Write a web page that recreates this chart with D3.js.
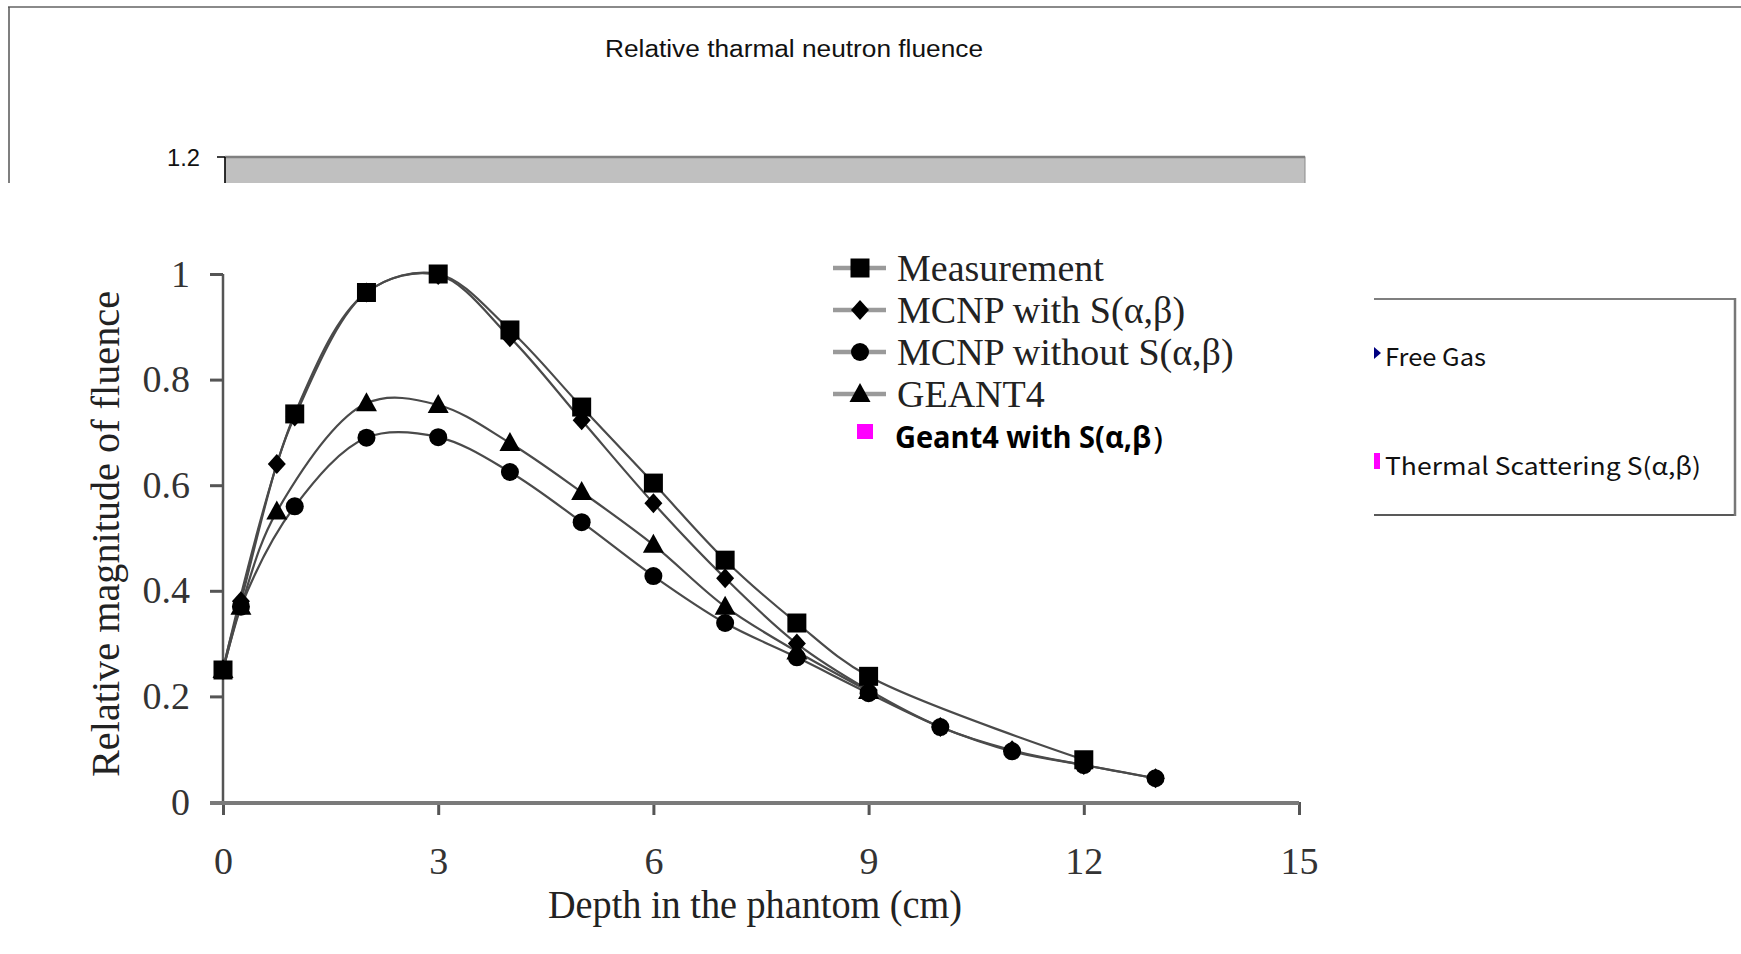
<!DOCTYPE html>
<html><head><meta charset="utf-8">
<script src="https://cdn.jsdelivr.net/npm/d3@7/dist/d3.min.js"></script>
<style>body{margin:0;background:#fff;overflow:hidden}</style>
</head><body><svg id="c" width="1741" height="954"></svg>
<script>
// ---------- data ----------
const chartTitle = "Relative tharmal neutron fluence";
const outerTickLabels = ["1.2"];
const outerTickValues = [1.2];
const boxLegendLabels = ["Free Gas", "Thermal Scattering S(α,β)"];
const boxLegendColors = ["#000080", "#ff00ff"];

const xTicks = [0, 3, 6, 9, 12, 15];
const yTicks = [0, 0.2, 0.4, 0.6, 0.8, 1];
const yTickLabels = ["0", "0.2", "0.4", "0.6", "0.8", "1"];
const xAxisTitle = "Depth in the phantom (cm)";
const yAxisTitle = "Relative magnitude of fluence";

const seriesNames = ["Measurement", "MCNP with S(α,β)", "MCNP without S(α,β)", "GEANT4"];
const seriesMarkers = ["square", "diamond", "circle", "triangle"];

const depthMeasurement = [0, 1, 2, 3, 4, 5, 6, 7, 8, 9, 12];
const valueMeasurement = [0.25, 0.735, 0.965, 1.0, 0.894, 0.748, 0.604, 0.458, 0.339, 0.238, 0.08];

const depthMcnpWith = [0, 0.25, 0.75, 1, 2, 3, 4, 5, 6, 7, 8, 9, 10, 11, 12, 13];
const valueMcnpWith = [0.25, 0.38, 0.64, 0.73, 0.965, 0.998, 0.88, 0.723, 0.566, 0.424, 0.30, 0.212, 0.142, 0.098, 0.07, 0.045];

const depthMcnpWithout = [0, 0.25, 1, 2, 3, 4, 5, 6, 7, 8, 9, 10, 11, 12, 13];
const valueMcnpWithout = [0.25, 0.37, 0.56, 0.69, 0.691, 0.625, 0.53, 0.428, 0.339, 0.274, 0.206, 0.142, 0.096, 0.07, 0.045];

const depthGeant4 = [0, 0.25, 0.75, 2, 3, 4, 5, 6, 7, 8, 9];
const valueGeant4 = [0.25, 0.37, 0.55, 0.755, 0.752, 0.68, 0.587, 0.487, 0.37, 0.285, 0.21];

const extraLegendLabel = "Geant4 with S(α,β）";
const extraLegendColor = "#ff00ff";

// ---------- drawing ----------
const svg = d3.select("#c");
const serif = "'Liberation Serif','DejaVu Serif',serif";
const sans = "'Liberation Sans',Arial,sans-serif";

// Outer (spreadsheet) chart frame
svg.append("line").attr("x1", 8).attr("x2", 1741).attr("y1", 7).attr("y2", 7)
  .attr("stroke", "#8a8a8a").attr("stroke-width", 2);
svg.append("line").attr("x1", 9).attr("x2", 9).attr("y1", 7).attr("y2", 190)
  .attr("stroke", "#555").attr("stroke-width", 1.5);
svg.append("text").attr("x", 794).attr("y", 57).attr("text-anchor", "middle")
  .attr("font-family", sans).attr("font-size", 23).attr("fill", "#111")
  .attr("textLength", 378).attr("lengthAdjust", "spacingAndGlyphs").text(chartTitle);

// outer plot area (grey band) and its axis
const yOuter = d3.scaleLinear().domain([1.0, 1.2]).range([383, 157]);
svg.append("rect").attr("x", 225).attr("y", yOuter(1.2)).attr("width", 1080).attr("height", 40)
  .attr("fill", "#c0c0c0").attr("stroke", "#8a8a8a").attr("stroke-width", 1);
svg.append("line").attr("x1", 225).attr("x2", 1305).attr("y1", yOuter(1.2)).attr("y2", yOuter(1.2))
  .attr("stroke", "#808080").attr("stroke-width", 2.5);
svg.append("line").attr("x1", 225).attr("x2", 225).attr("y1", yOuter(1.2)).attr("y2", 190)
  .attr("stroke", "#000").attr("stroke-width", 1.5);
outerTickValues.forEach((v, i) => {
  svg.append("line").attr("x1", 217).attr("x2", 225).attr("y1", yOuter(v)).attr("y2", yOuter(v))
    .attr("stroke", "#000").attr("stroke-width", 1.5);
  svg.append("text").attr("x", 200).attr("y", yOuter(v) + 9).attr("text-anchor", "end")
    .attr("font-family", sans).attr("font-size", 24).attr("fill", "#111")
    .attr("textLength", 33).attr("lengthAdjust", "spacingAndGlyphs").text(outerTickLabels[i]);
});

// pasted figure (white background)
svg.append("rect").attr("x", 0).attr("y", 183).attr("width", 1374).attr("height", 771).attr("fill", "#fff");

// outer legend box
svg.append("line").attr("x1", 1374).attr("x2", 1735).attr("y1", 299).attr("y2", 299).attr("stroke", "#555").attr("stroke-width", 1.5);
svg.append("line").attr("x1", 1374).attr("x2", 1735).attr("y1", 515).attr("y2", 515).attr("stroke", "#222").attr("stroke-width", 1.5);
svg.append("line").attr("x1", 1735).attr("x2", 1735).attr("y1", 298).attr("y2", 516).attr("stroke", "#777").attr("stroke-width", 2.5);
const boxY = [366, 475];
svg.append("path").attr("d", `M1374,${boxY[0]-19}L1381,${boxY[0]-13}L1374,${boxY[0]-7}Z`).attr("fill", boxLegendColors[0]);
svg.append("rect").attr("x", 1374).attr("y", boxY[1] - 22).attr("width", 6).attr("height", 16).attr("fill", boxLegendColors[1]);
const boxLabelWidths = [101, 316];
boxLegendLabels.forEach((t, i) => {
  svg.append("text").attr("x", 1385).attr("y", boxY[i])
    .attr("font-family", "'Noto Sans CJK JP','Liberation Sans',sans-serif").attr("font-size", 24)
    .attr("fill", "#111").attr("textLength", boxLabelWidths[i]).attr("lengthAdjust", "spacingAndGlyphs").text(t);
});

const x = d3.scaleLinear().domain([0, 15]).range([223, 1299]);
const y = d3.scaleLinear().domain([0, 1]).range([802, 274]);

const g = svg.append("g");
const axisColor = "#555";

// y axis
const yAxis = d3.axisLeft(y).tickValues(yTicks).tickSize(13).tickPadding(20)
  .tickFormat((d, i) => yTickLabels[i]);
const gy = g.append("g").attr("transform", `translate(${x(0)},0)`).call(yAxis);
gy.select(".domain").remove();
gy.selectAll("line").attr("stroke", axisColor).attr("stroke-width", 3);
gy.selectAll("text").attr("font-family", serif).attr("font-size", 38).attr("fill", "#333");
g.append("line").attr("x1", x(0)).attr("x2", x(0)).attr("y1", y(1)).attr("y2", y(0))
  .attr("stroke", axisColor).attr("stroke-width", 2.5);

// x axis
const xAxis = d3.axisBottom(x).tickValues(xTicks).tickSize(13).tickPadding(32).tickFormat(d3.format("d"));
const gx = g.append("g").attr("transform", `translate(0,${y(0)})`).call(xAxis);
gx.select(".domain").remove();
gx.selectAll("line").attr("stroke", axisColor).attr("stroke-width", 3);
gx.selectAll("text").attr("font-family", serif).attr("font-size", 38).attr("fill", "#333");
g.append("line").attr("x1", x(0) - 13).attr("x2", x(15)).attr("y1", y(0) + 1).attr("y2", y(0) + 1)
  .attr("stroke", "#7a7a7a").attr("stroke-width", 4);

// axis titles
g.append("text").attr("x", 755).attr("y", 918).attr("text-anchor", "middle")
  .attr("font-family", serif).attr("font-size", 40).attr("fill", "#222")
  .attr("textLength", 414).attr("lengthAdjust", "spacingAndGlyphs").text(xAxisTitle);
g.append("text").attr("transform", "translate(119,534) rotate(-90)").attr("text-anchor", "middle")
  .attr("font-family", serif).attr("font-size", 40).attr("fill", "#222")
  .attr("textLength", 486).attr("lengthAdjust", "spacingAndGlyphs").text(yAxisTitle);

// series
const series = [
  {name: seriesNames[3], marker: seriesMarkers[3], xs: depthGeant4, ys: valueGeant4},
  {name: seriesNames[2], marker: seriesMarkers[2], xs: depthMcnpWithout, ys: valueMcnpWithout},
  {name: seriesNames[1], marker: seriesMarkers[1], xs: depthMcnpWith, ys: valueMcnpWith},
  {name: seriesNames[0], marker: seriesMarkers[0], xs: depthMeasurement, ys: valueMeasurement}
];
const line = d3.line().x(d => x(d[0])).y(d => y(d[1])).curve(d3.curveCatmullRom.alpha(0.5));

function markerPath(type) {
  switch (type) {
    case "square": return "M-9.5,-9.5H9.5V9.5H-9.5Z";
    case "diamond": return "M0,-10L9,0L0,10L-9,0Z";
    case "circle": return "M9,0A9,9 0 1,1 -9,0A9,9 0 1,1 9,0Z";
    case "triangle": return "M0,-11L10.5,8L-10.5,8Z";
  }
}

series.forEach(s => {
  const pts = s.xs.map((d, i) => [d, s.ys[i]]);
  g.append("path").datum(pts).attr("d", line).attr("fill", "none")
    .attr("stroke", "#4a4a4a").attr("stroke-width", 2.2);
});
series.forEach(s => {
  const pts = s.xs.map((d, i) => [d, s.ys[i]]);
  g.selectAll(null).data(pts).enter().append("path")
    .attr("transform", d => `translate(${x(d[0])},${y(d[1])})`)
    .attr("d", markerPath(s.marker)).attr("fill", "#000");
});

// inner legend
const legendRows = [0, 1, 2, 3];
const legY = d3.scaleLinear().domain([0, 3]).range([268, 394]);
legendRows.forEach(i => {
  g.append("line").attr("x1", 833).attr("x2", 886).attr("y1", legY(i)).attr("y2", legY(i))
    .attr("stroke", "#9a9a9a").attr("stroke-width", 4.5);
  g.append("path").attr("transform", `translate(860,${legY(i)})`)
    .attr("d", markerPath(seriesMarkers[i])).attr("fill", "#000");
  g.append("text").attr("x", 897).attr("y", legY(i) + 13)
    .attr("font-family", serif).attr("font-size", 38).attr("fill", "#222").text(seriesNames[i]);
});
g.append("rect").attr("x", 857).attr("y", 424).attr("width", 16).attr("height", 15).attr("fill", extraLegendColor);
g.append("text").attr("x", 895).attr("y", 448)
  .attr("font-family", "'Open Sans','Noto Sans',sans-serif").attr("font-weight", "bold")
  .attr("font-size", 30).attr("fill", "#000")
  .attr("textLength", 285).attr("lengthAdjust", "spacingAndGlyphs").text(extraLegendLabel);
</script>
</body></html>
